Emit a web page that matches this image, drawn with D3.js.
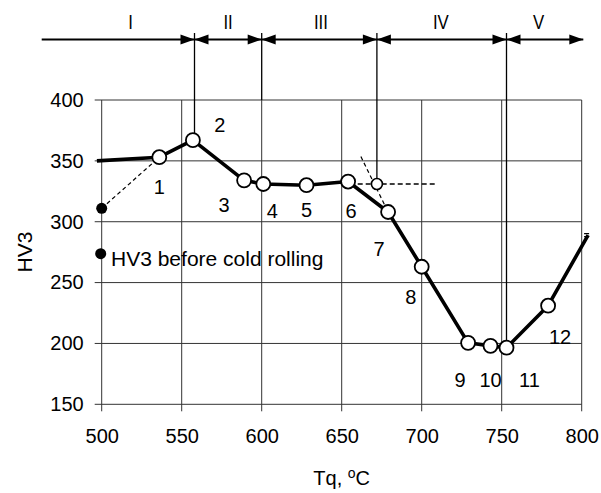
<!DOCTYPE html>
<html>
<head>
<meta charset="utf-8">
<script src="https://cdn.jsdelivr.net/npm/d3@7"></script>
<style>
  html, body { margin: 0; padding: 0; background: #fff; }
  svg { display: block; font-family: "Liberation Sans", Arial, sans-serif; }
</style>
</head>
<body>
<svg id="chart" width="601" height="493"></svg>
<script>
// ---- data ----
const xTicks = [500, 550, 600, 650, 700, 750, 800];
const yTicks = [150, 200, 250, 300, 350, 400];
// main curve vertices (temperature, HV3)
const curveT  = [497, 536, 557, 589, 601, 628, 654, 679, 700, 729, 743, 753, 779, 804];
const curveHV = [350, 353, 367, 334, 331, 330, 333, 308, 263, 200.5, 198, 196.5, 231, 289];
// numbered open-circle points
const pointNames = ["1","2","3","4","5","6","7","8","9","10","11","12"];
const pointT  = [536, 557, 589, 601, 628, 654, 679, 700, 729, 743, 753, 779];
const pointHV = [353, 367, 334, 331, 330, 333, 308, 263, 200.5, 198, 196.5, 231];
// HV3 before cold rolling
const beforeT = [500];
const beforeHV = [311];
// construction (tangent) point
const constrT = [672];
const constrHV = [331];
// zones
const zoneLabels = ["I", "II", "III", "IV", "V"];
const zoneLabelT = [518, 579, 637, 712, 773];
const zoneBounds = [558, 600, 672, 753];
const zoneBoundBottomHV = [367, 400, 331, 196.5];
const zoneArrowRange = [462.5, 801];

(function () {
// ---- layout ----
const svg = d3.select("#chart");
const pLeft = 101.7, pRight = 581.7, pTop = 100, pBottom = 404.3;
const x = d3.scaleLinear().domain([500, 800]).range([pLeft, pRight]);
const y = d3.scaleLinear().domain([150, 400]).range([pBottom, pTop]);
const FONT = 20;

// grid
const grid = svg.append("g");
grid.selectAll("line.v").data(xTicks).join("line")
  .attr("x1", d => x(d)).attr("x2", d => x(d))
  .attr("y1", pTop).attr("y2", pBottom + 7)
  .attr("stroke", "#333").attr("stroke-width", 1);
grid.selectAll("line.h").data(yTicks).join("line")
  .attr("x1", pLeft - 7).attr("x2", pRight)
  .attr("y1", d => y(d)).attr("y2", d => y(d))
  .attr("stroke", "#333").attr("stroke-width", 1);

// axes labels via d3 axes
const xAxis = svg.append("g").attr("transform", `translate(0,${pBottom})`)
  .call(d3.axisBottom(x).tickValues(xTicks).tickSize(0).tickPadding(25).tickFormat(d3.format("d")));
const yAxis = svg.append("g").attr("transform", `translate(${pLeft},0)`)
  .call(d3.axisLeft(y).tickValues(yTicks).tickSize(0).tickPadding(18).tickFormat(d3.format("d")));
[xAxis, yAxis].forEach(a => {
  a.select(".domain").remove();
  a.selectAll("text").attr("font-size", FONT).attr("fill", "#000")
    .attr("font-family", "'Liberation Sans', Arial, sans-serif");
});

// axis titles
svg.append("text").attr("x", (pLeft + pRight) / 2).attr("y", 485)
  .attr("text-anchor", "middle").attr("font-size", 20)
  .html('Tq, <tspan dy="-7" font-size="14">o</tspan><tspan dy="7">C</tspan>');
svg.append("text").attr("transform", "translate(32,252) rotate(-90)")
  .attr("text-anchor", "middle").attr("font-size", 21).text("HV3");

// zone boundary lines
svg.selectAll("line.zb").data(zoneBounds).join("line")
  .attr("x1", d => x(d)).attr("x2", d => x(d))
  .attr("y1", 33).attr("y2", (d, i) => y(zoneBoundBottomHV[i]) - (i === 1 ? 0 : 6))
  .attr("stroke", "#000").attr("stroke-width", 1.3);

// zone arrows
const edges = [zoneArrowRange[0], ...zoneBounds, zoneArrowRange[1]];
const arrowY = 39.5;
const ah = 14, aw = 5;
const arrows = svg.append("g");
for (let i = 0; i < zoneLabels.length; i++) {
  const x0 = x(edges[i]), x1 = x(edges[i + 1]);
  arrows.append("line").attr("x1", x0).attr("x2", x1).attr("y1", arrowY).attr("y2", arrowY)
    .attr("stroke", "#000").attr("stroke-width", 2);
  arrows.append("path")
    .attr("d", `M${x1},${arrowY} L${x1 - ah},${arrowY - aw} L${x1 - ah},${arrowY + aw} Z`)
    .attr("fill", "#000");
  if (i > 0) {
    arrows.append("path")
      .attr("d", `M${x0},${arrowY} L${x0 + ah},${arrowY - aw} L${x0 + ah},${arrowY + aw} Z`)
      .attr("fill", "#000");
  }
  const lx = x(zoneLabelT[i]);
  arrows.append("text").attr("x", lx).attr("y", 29.5)
    .attr("text-anchor", "middle").attr("font-size", 21)
    .attr("transform", `translate(${lx},0) scale(0.8,1) translate(${-lx},0)`)
    .text(zoneLabels[i]);
}

// dashed line from pre-rolling hardness to point 1
svg.append("line")
  .attr("x1", x(beforeT[0])).attr("y1", y(beforeHV[0]))
  .attr("x2", x(pointT[0])).attr("y2", y(pointHV[0]))
  .attr("stroke", "#000").attr("stroke-width", 1.2).attr("stroke-dasharray", "4,3");

// tangent construction lines
svg.append("line")
  .attr("x1", x(655)).attr("x2", x(710))
  .attr("y1", y(constrHV[0])).attr("y2", y(constrHV[0]))
  .attr("stroke", "#000").attr("stroke-width", 1.3).attr("stroke-dasharray", "5,3");
svg.append("line")
  .attr("x1", x(662)).attr("y1", y(353.5))
  .attr("x2", x(pointT[6])).attr("y2", y(pointHV[6]))
  .attr("stroke", "#000").attr("stroke-width", 1.2).attr("stroke-dasharray", "4,3");

// main curve
const line = d3.line().x(d => x(d[0])).y(d => y(d[1]));
svg.append("path").datum(curveT.map((t, i) => [t, curveHV[i]]))
  .attr("d", line).attr("fill", "none").attr("stroke", "#000")
  .attr("stroke-width", 3.6).attr("stroke-linejoin", "round");

// small end mark
const ex = x(curveT[curveT.length - 1]), ey = y(curveHV[curveHV.length - 1]);
svg.append("path")
  .attr("d", `M${ex - 4},${ey - 1.5} h5 M${ex - 4},${ey + 1.5} h5`)
  .attr("stroke", "#000").attr("stroke-width", 1.2);

// construction circle
svg.selectAll("circle.c").data(constrT).join("circle")
  .attr("cx", d => x(d)).attr("cy", (d, i) => y(constrHV[i])).attr("r", 5.5)
  .attr("fill", "#fff").attr("stroke", "#000").attr("stroke-width", 1.6);

// open circles
svg.selectAll("circle.p").data(pointT).join("circle")
  .attr("cx", d => x(d)).attr("cy", (d, i) => y(pointHV[i])).attr("r", 7)
  .attr("fill", "#fff").attr("stroke", "#000").attr("stroke-width", 1.8);

// filled dot (before cold rolling)
svg.selectAll("circle.b").data(beforeT).join("circle")
  .attr("cx", d => x(d)).attr("cy", (d, i) => y(beforeHV[i])).attr("r", 5.5)
  .attr("fill", "#000");

// legend
svg.append("circle").attr("cx", x(500) - 1).attr("cy", 253.7).attr("r", 5.5).attr("fill", "#000");
svg.append("text").attr("x", 111).attr("y", 266).attr("font-size", 21)
  .text("HV3 before cold rolling");

// point labels
const labelOffsets = [[0,30],[27,-15],[-20,24],[9,27],[0,25],[3,29],[-9,37],[-11,30],[-8,37],[0,34],[23,32],[12,31]];
svg.selectAll("text.pl").data(pointNames).join("text")
  .attr("x", (d, i) => x(pointT[i]) + labelOffsets[i][0])
  .attr("y", (d, i) => y(pointHV[i]) + labelOffsets[i][1])
  .attr("dy", "0.36em").attr("text-anchor", "middle").attr("font-size", FONT)
  .text(d => d);
})();
</script>
</body>
</html>
